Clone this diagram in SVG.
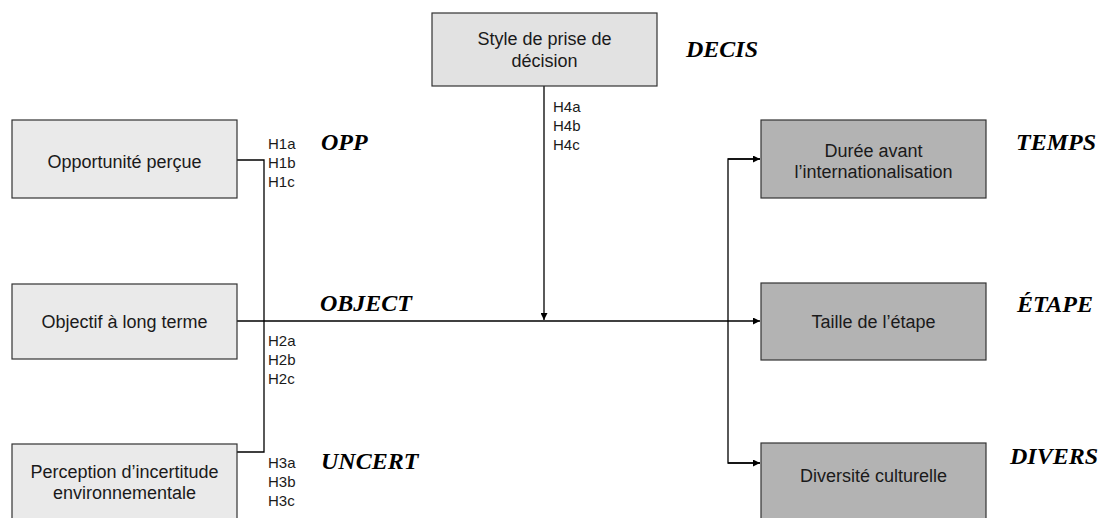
<svg xmlns="http://www.w3.org/2000/svg" width="1108" height="518" viewBox="0 0 1108 518">
<defs>
<style>
.box{stroke:#333;stroke-width:1.2}
.light{fill:#eaeaea}
.top{fill:#e2e2e2}
.dark{fill:#b3b3b3}
.t{font-family:"Liberation Sans",Arial,sans-serif;font-size:18px;fill:#1a1a1a;text-anchor:middle}
.h{font-family:"Liberation Sans",Arial,sans-serif;font-size:15px;fill:#1a1a1a}
.v{font-family:"Liberation Serif","Times New Roman",serif;font-size:24px;font-weight:bold;font-style:italic;fill:#000}
.c{fill:none;stroke:#000;stroke-width:1.3}
</style>
<marker id="arr" viewBox="0 0 10 10" refX="10" refY="5" markerWidth="7" markerHeight="7" markerUnits="userSpaceOnUse" orient="auto">
<path d="M0,0 L10,5 L0,10 z" fill="#000"/>
</marker>
</defs>
<rect width="1108" height="518" fill="#fff"/>
<g id="connectors">
<polyline class="c" points="237,160 264,160 264,452 237,452"/>
<line class="c" x1="237" y1="321" x2="760" y2="321" marker-end="url(#arr)"/>
<line class="c" x1="544" y1="86" x2="544" y2="320" marker-end="url(#arr)"/>
<polyline class="c" points="760,159 728,159 728,463 760,463"/>
<line class="c" x1="728" y1="159" x2="760" y2="159" marker-end="url(#arr)"/>
<line class="c" x1="728" y1="463" x2="760" y2="463" marker-end="url(#arr)"/>
</g>
<g id="opp">
<rect class="box light" x="12" y="120" width="225" height="78"/>
<text class="t" x="124.5" y="168">Opportunité perçue</text>
<text class="v" x="321" y="150">OPP</text>
<text class="h" x="268" y="149">H1a</text>
<text class="h" x="268" y="168">H1b</text>
<text class="h" x="268" y="187">H1c</text>
</g>
<g id="object">
<rect class="box light" x="12" y="284" width="225" height="75"/>
<text class="t" x="124.5" y="328">Objectif à long terme</text>
<text class="v" x="320" y="311">OBJECT</text>
<text class="h" x="268" y="346">H2a</text>
<text class="h" x="268" y="365">H2b</text>
<text class="h" x="268" y="384">H2c</text>
</g>
<g id="uncert">
<rect class="box light" x="12" y="444" width="225" height="80"/>
<text class="t" x="124.5" y="478">Perception d’incertitude</text>
<text class="t" x="124.5" y="499">environnementale</text>
<text class="v" x="321" y="469">UNCERT</text>
<text class="h" x="268" y="468">H3a</text>
<text class="h" x="268" y="487">H3b</text>
<text class="h" x="268" y="506">H3c</text>
</g>
<g id="decis">
<rect class="box top" x="432" y="13" width="225" height="73"/>
<text class="t" x="544.5" y="45">Style de prise de</text>
<text class="t" x="544.5" y="67">décision</text>
<text class="v" x="686" y="57">DECIS</text>
<text class="h" x="553" y="112">H4a</text>
<text class="h" x="553" y="131">H4b</text>
<text class="h" x="553" y="150">H4c</text>
</g>
<g id="temps">
<rect class="box dark" x="761" y="120" width="225" height="78"/>
<text class="t" x="873.5" y="157">Durée avant</text>
<text class="t" x="873.5" y="178">l’internationalisation</text>
<text class="v" x="1016" y="150">TEMPS</text>
</g>
<g id="etape">
<rect class="box dark" x="761" y="283" width="225" height="77"/>
<text class="t" x="873.5" y="328">Taille de l’étape</text>
<text class="v" x="1017" y="312">ÉTAPE</text>
</g>
<g id="divers">
<rect class="box dark" x="761" y="443" width="225" height="81"/>
<text class="t" x="873.5" y="482">Diversité culturelle</text>
<text class="v" x="1010" y="464">DIVERS</text>
</g>
</svg>
